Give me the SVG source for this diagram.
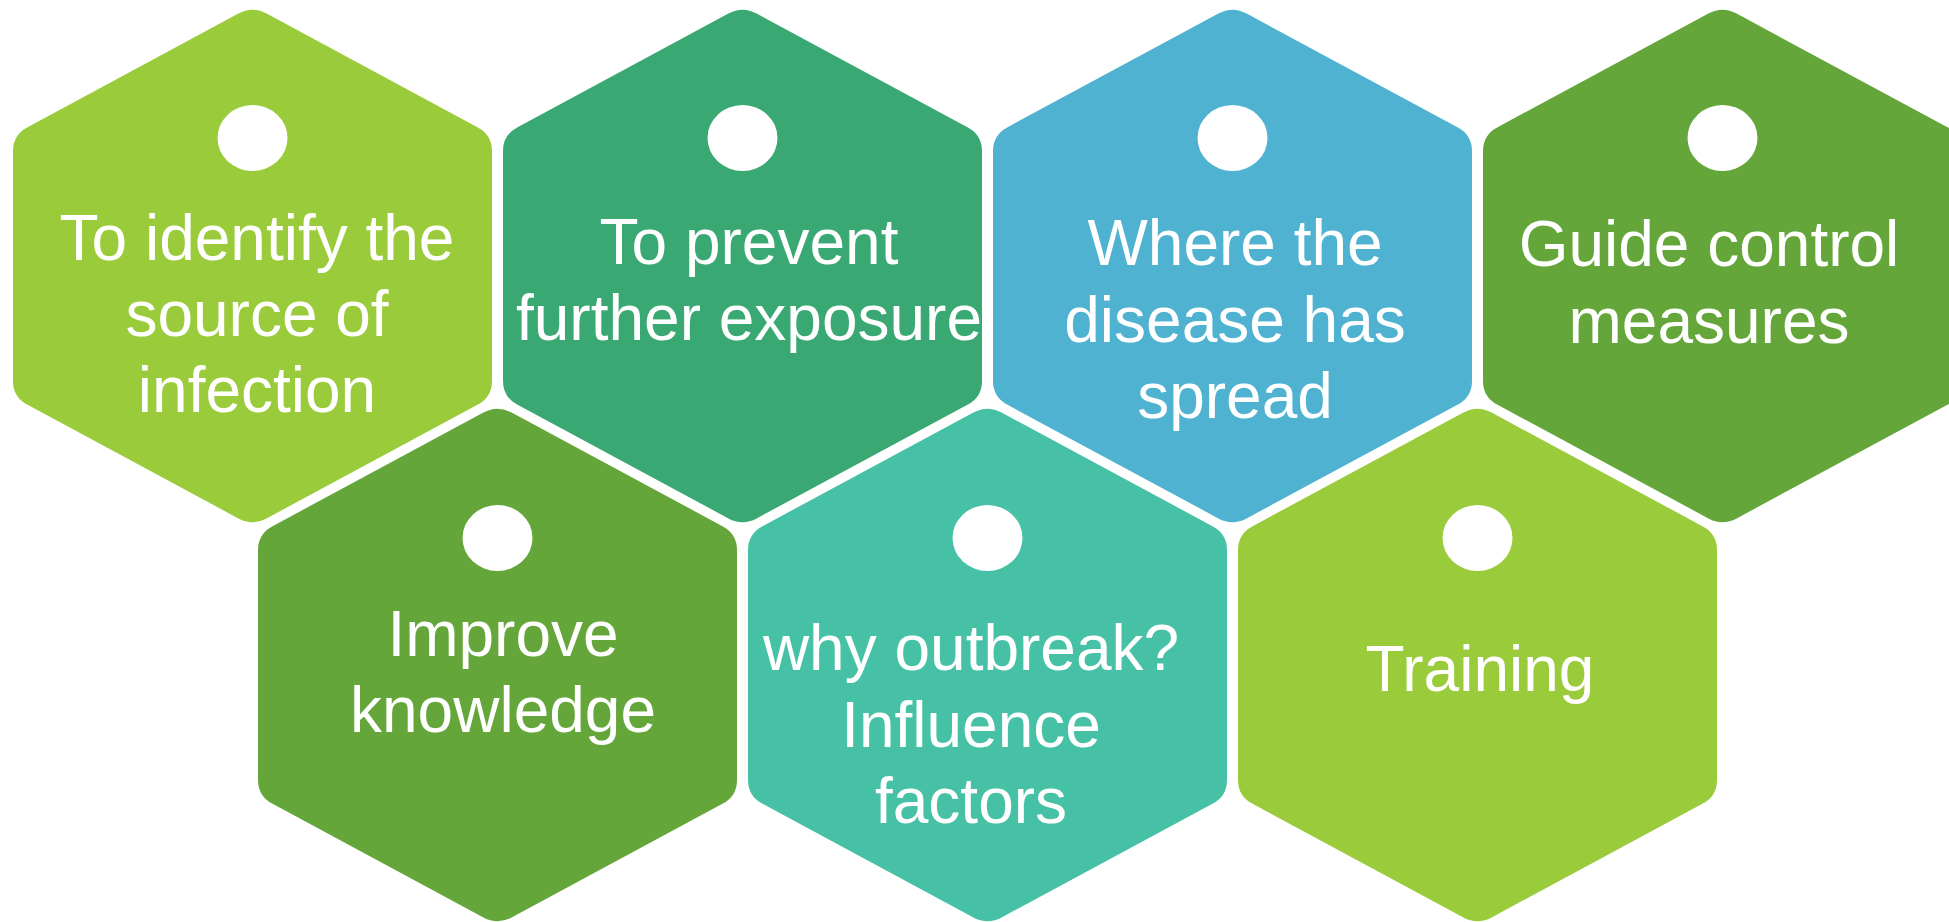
<svg xmlns="http://www.w3.org/2000/svg" xmlns:xlink="http://www.w3.org/1999/xlink" width="1949" height="922" viewBox="0 0 1949 922">
<style>
.lbl{font-family:"Liberation Sans",Arial,sans-serif;font-size:64px;fill:#ffffff;text-anchor:middle}
.dot{fill:#ffffff}
.c1{fill:#9ACB3A}
.c2{fill:#39A873}
.c3{fill:#4FB2D1}
.c4{fill:#64A639}
.c6{fill:#46C1A5}
</style>
<defs>
<path id="hex" d="M14.1,7.6 L225.4,121.4 Q239.5,129 239.5,145 L239.5,375 Q239.5,391 225.4,398.6 L14.1,512.4 Q0,520 -14.1,512.4 L-225.4,398.6 Q-239.5,391 -239.5,375 L-239.5,145 Q-239.5,129 -225.4,121.4 L-14.1,7.6 Q0,0 14.1,7.6 Z"/>
</defs>
<rect width="1949" height="922" fill="#ffffff"/>
<g id="node1">
<use href="#hex" xlink:href="#hex" x="252.5" y="6" class="c1"/>
<ellipse class="dot" cx="252.5" cy="138" rx="35" ry="33"/>
<text class="lbl" x="257" y="260">To identify the</text>
<text class="lbl" x="257" y="336">source of</text>
<text class="lbl" x="257" y="412">infection</text>
</g>
<g id="node2">
<use href="#hex" xlink:href="#hex" x="742.5" y="6" class="c2"/>
<ellipse class="dot" cx="742.5" cy="138" rx="35" ry="33"/>
<text class="lbl" x="749" y="264">To prevent</text>
<text class="lbl" x="749" y="340">further exposure</text>
</g>
<g id="node3">
<use href="#hex" xlink:href="#hex" x="1232.5" y="6" class="c3"/>
<ellipse class="dot" cx="1232.5" cy="138" rx="35" ry="33"/>
<text class="lbl" x="1235" y="265">Where the</text>
<text class="lbl" x="1235" y="342">disease has</text>
<text class="lbl" x="1235" y="418">spread</text>
</g>
<g id="node4">
<use href="#hex" xlink:href="#hex" x="1722.5" y="6" class="c4"/>
<ellipse class="dot" cx="1722.5" cy="138" rx="35" ry="33"/>
<text class="lbl" x="1709" y="266">Guide control</text>
<text class="lbl" x="1709" y="343">measures</text>
</g>
<g id="node5">
<use href="#hex" xlink:href="#hex" x="497.5" y="405" class="c4"/>
<ellipse class="dot" cx="497.5" cy="538" rx="35" ry="33"/>
<text class="lbl" x="503" y="656">Improve</text>
<text class="lbl" x="503" y="732">knowledge</text>
</g>
<g id="node6">
<use href="#hex" xlink:href="#hex" x="987.5" y="405" class="c6"/>
<ellipse class="dot" cx="987.5" cy="538" rx="35" ry="33"/>
<text class="lbl" x="971" y="670">why outbreak?</text>
<text class="lbl" x="971" y="747">Influence</text>
<text class="lbl" x="971" y="823">factors</text>
</g>
<g id="node7">
<use href="#hex" xlink:href="#hex" x="1477.5" y="405" class="c1"/>
<ellipse class="dot" cx="1477.5" cy="538" rx="35" ry="33"/>
<text class="lbl" x="1480" y="691">Training</text>
</g>
<g id="connectors"/>
</svg>
